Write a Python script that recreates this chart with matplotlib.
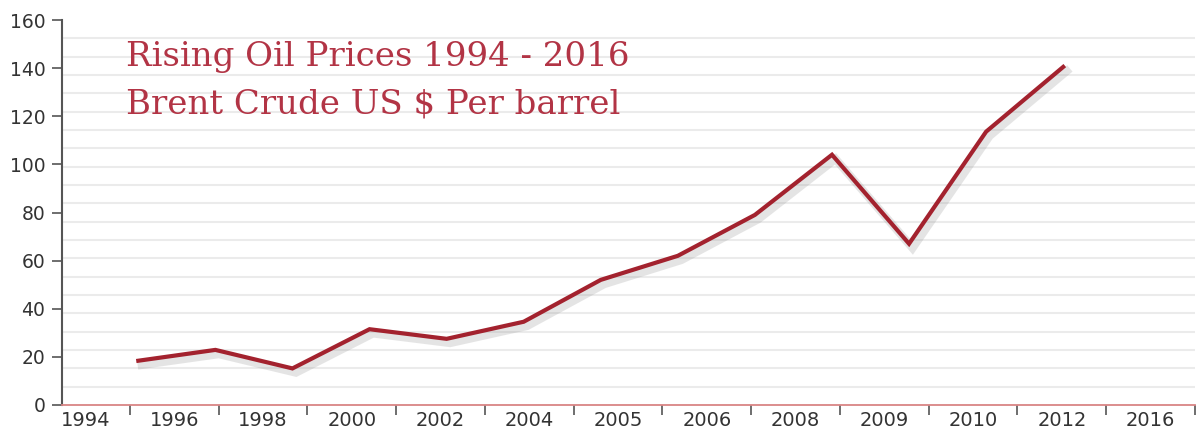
import matplotlib.pyplot as plt
import matplotlib.patheffects as pe
import numpy as np

# category labels along the bottom
year_labels = ["1994", "1996", "1998", "2000", "2002", "2004", "2005",
               "2006", "2008", "2009", "2010", "2012", "2016"]
# Brent crude, US $ per barrel
prices = [18.4, 22.9, 15.2, 31.5, 27.5, 34.6, 52.0, 62.0, 79.0,
          104.0, 67.0, 113.6, 140.5]
y_ticks = [0, 20, 40, 60, 80, 100, 120, 140, 160]

line_color = "#a3222e"
title_color = "#b23445"
text_color = "#333333"

fig = plt.figure(figsize=(12.03, 4.28), dpi=100)
ax = fig.add_axes([62 / 1203, 1 - 405 / 428, (1195 - 62) / 1203, 385 / 428])

# category axis: labels centred in bands, tick marks on band edges
ax.set_xlim(0.234, 13)
ax.set_ylim(0, 160)
ax.set_xticks(np.arange(len(year_labels)) + 0.5)
ax.set_xticklabels(year_labels, fontsize=14, color=text_color,
                   family="DejaVu Sans")
ax.set_xticks(np.arange(1, len(year_labels) + 1), minor=True)
ax.tick_params(axis="x", which="major", length=0, pad=4)
ax.tick_params(axis="x", which="minor", length=7, width=1.2,
               color="#555555", direction="out")

ax.set_yticks(y_ticks)
ax.set_yticklabels([str(v) for v in y_ticks], fontsize=13.5,
                   color=text_color, family="DejaVu Sans")
ax.tick_params(axis="y", which="major", length=7, width=1.2,
               color="#555555", pad=5)

# faint horizontal rules
ax.set_yticks(np.linspace(0, 160, 22), minor=True)
ax.tick_params(axis="y", which="minor", length=0)
ax.grid(which="minor", axis="y", color="#ebebeb", linewidth=1.5)
ax.set_axisbelow(True)

for side in ["top", "right"]:
    ax.spines[side].set_visible(False)
ax.spines["left"].set_color("#555555")
ax.spines["left"].set_linewidth(1.5)
ax.spines["bottom"].set_color("#d98585")
ax.spines["bottom"].set_linewidth(1.3)

# the price line sits on its own evenly spaced x scale
ax2 = ax.twiny()
ax2.set_xlim(-0.99, 13.71)
ax2.plot(np.arange(len(prices)), prices, color=line_color, linewidth=3.0,
         solid_joinstyle="miter",
         path_effects=[pe.SimpleLineShadow(offset=(2.5, -3),
                                           shadow_color="#888888",
                                           alpha=0.22, linewidth=6),
                       pe.Normal()])
ax2.set_xticks([])
for s in ax2.spines.values():
    s.set_visible(False)

fig.text(126 / 1203, 1 - 66 / 428, "Rising Oil Prices 1994 - 2016",
         fontsize=24.5, color=title_color, family="DejaVu Serif",
         va="baseline")
fig.text(126 / 1203, 1 - 114 / 428, "Brent Crude US $ Per barrel",
         fontsize=24.5, color=title_color, family="DejaVu Serif",
         va="baseline")

fig.savefig("out.png", dpi=100)
